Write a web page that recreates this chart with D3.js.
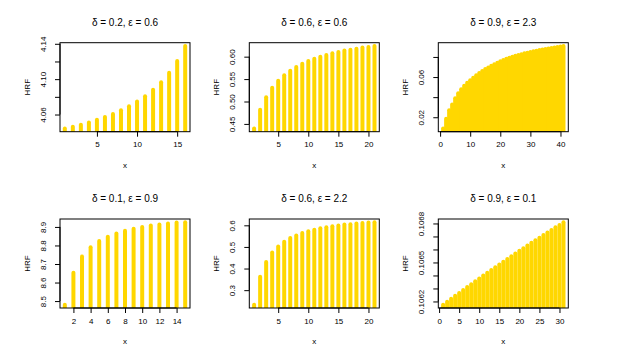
<!DOCTYPE html>
<html>
<head>
<meta charset="utf-8">
<script src="https://cdn.jsdelivr.net/npm/d3@7"></script>
<style>
  body { margin: 0; background: #fff; }
  text { font-family: "Liberation Sans", Arial, sans-serif; fill: #000; }
</style>
</head>
<body>
<svg width="624" height="355"></svg>
<script>
// Panel titles (row by row)
const titles = [
  'δ = 0.2, ε = 0.6', 'δ = 0.6, ε = 0.6', 'δ = 0.9, ε = 2.3',
  'δ = 0.1, ε = 0.9', 'δ = 0.6, ε = 2.2', 'δ = 0.9, ε = 0.1',
];

// HRF values, x = 1..n
const hrf1 = [4.0443, 4.0462, 4.0485, 4.0511, 4.0542, 4.0573, 4.0607, 4.0648,
  4.0693, 4.0747, 4.0807, 4.0880, 4.0966, 4.1073, 4.1205, 4.1375];
const hrf2 = [0.440, 0.4818, 0.5094, 0.5305, 0.5462, 0.5587, 0.5686, 0.5767,
  0.5843, 0.5901, 0.5955, 0.600, 0.6036, 0.6074, 0.6103, 0.6135, 0.6157,
  0.6179, 0.6202, 0.6215, 0.6238];
const hrf3 = [0.0089, 0.0186, 0.0269, 0.0326, 0.0389, 0.0439, 0.0479, 0.0514,
  0.0544, 0.0569, 0.0594, 0.0619, 0.0641, 0.0661, 0.0679, 0.0696, 0.0712,
  0.0727, 0.0742, 0.0756, 0.0769, 0.0781, 0.0792, 0.0802, 0.0811, 0.0820,
  0.0828, 0.0836, 0.0843, 0.0850, 0.0856, 0.0862, 0.0868, 0.0874, 0.0879,
  0.0884, 0.0889, 0.0894, 0.0899, 0.0904, 0.0909];
const hrf4 = [8.4804, 8.6526, 8.7398, 8.7910, 8.8237, 8.8471, 8.8651, 8.8798,
  8.8907, 8.9000, 8.9071, 8.9125, 8.9180, 8.9234, 8.9250];
const hrf5 = [0.2327, 0.3617, 0.4304, 0.4738, 0.5019, 0.5238, 0.5411, 0.5533,
  0.5645, 0.5720, 0.5799, 0.5860, 0.5907, 0.5953, 0.5986, 0.6033, 0.6047,
  0.6079, 0.6112, 0.6126, 0.6140];
const hrf6 = [0.106175, 0.106198, 0.106221, 0.106244, 0.106266, 0.106289,
  0.106311, 0.106333, 0.106355, 0.106377, 0.106399, 0.106421, 0.106442,
  0.106464, 0.106485, 0.106506, 0.106527, 0.106548, 0.106569, 0.106590,
  0.106610, 0.106631, 0.106651, 0.106671, 0.106691, 0.106711, 0.106731,
  0.106750, 0.106770, 0.106789, 0.106809];

// Axis ticks; labels that R dropped for overlap are left blank
const xTicks = [
  [5, 10, 15], [5, 10, 15, 20], [0, 10, 20, 30, 40],
  [2, 4, 6, 8, 10, 12, 14], [5, 10, 15, 20], [0, 5, 10, 15, 20, 25, 30],
];
const yTicks = [
  [4.06, 4.08, 4.10, 4.12, 4.14],
  [0.45, 0.50, 0.55, 0.60],
  [0.02, 0.04, 0.06, 0.08],
  [8.5, 8.6, 8.7, 8.8, 8.9],
  [0.3, 0.4, 0.5, 0.6],
  [0.1062, 0.1063, 0.1064, 0.1065, 0.1066, 0.1067, 0.1068],
];
const yLabels = [
  ['4.06', '', '4.10', '', '4.14'],
  ['0.45', '0.50', '0.55', '0.60'],
  ['0.02', '', '0.06', ''],
  ['8.5', '8.6', '8.7', '8.8', '8.9'],
  ['0.3', '0.4', '0.5', '0.6'],
  ['0.1062', '', '', '0.1065', '', '', '0.1068'],
];

const series = [hrf1, hrf2, hrf3, hrf4, hrf5, hrf6];

// Layout of the 2 x 3 grid (plot boxes)
const colX = [60, 249.3, 438.3];
const rowY = [42.7, 219];
const boxW = 130;
const boxH = 89;
const gold = '#FFD700';

const svg = d3.select('svg');

// R style range with 4% padding
const pad = (ext) => {
  const r = ext[1] - ext[0];
  return [ext[0] - 0.04 * r, ext[1] + 0.04 * r];
};

series.forEach((vals, i) => {
  const left = colX[i % 3];
  const top = rowY[Math.floor(i / 3)];
  const data = vals.map((v, k) => ({x: k + 1, y: v}));

  const x = d3.scaleLinear()
    .domain(pad([1, vals.length]))
    .range([0, boxW]);
  const y = d3.scaleLinear()
    .domain(pad(d3.extent(vals)))
    .range([boxH, 0]);

  const g = svg.append('g')
    .attr('transform', `translate(${left},${top})`);

  g.append('clipPath')
    .attr('id', `clip${i}`)
    .append('rect')
    .attr('width', boxW)
    .attr('height', boxH);

  // Vertical "h" lines
  g.append('g')
    .attr('clip-path', `url(#clip${i})`)
    .selectAll('line')
    .data(data)
    .join('line')
      .attr('x1', (d) => x(d.x))
      .attr('x2', (d) => x(d.x))
      .attr('y1', boxH + 10)
      .attr('y2', (d) => y(d.y))
      .attr('stroke', gold)
      .attr('stroke-width', 4)
      .attr('stroke-linecap', 'round');

  // Box
  g.append('rect')
    .attr('width', boxW)
    .attr('height', boxH)
    .attr('fill', 'none')
    .attr('stroke', '#000')
    .attr('stroke-width', 1);

  // Bottom axis
  const xAxis = d3.axisBottom(x)
    .tickValues(xTicks[i])
    .tickSize(5)
    .tickPadding(5)
    .tickFormat(d3.format('d'));
  const gx = g.append('g')
    .attr('transform', `translate(0,${boxH})`)
    .call(xAxis);
  gx.select('.domain')
    .attr('d', `M${x(xTicks[i][0])},0H${x(xTicks[i][xTicks[i].length - 1])}`);
  gx.selectAll('text')
    .attr('font-size', 8)
    .attr('font-family', null);

  // Left axis with rotated labels
  const yAxis = d3.axisLeft(y)
    .tickValues(yTicks[i])
    .tickSize(5)
    .tickFormat((d, k) => yLabels[i][k]);
  const gy = g.append('g').call(yAxis);
  gy.select('.domain')
    .attr('d', `M0,${y(yTicks[i][0])}V${y(yTicks[i][yTicks[i].length - 1])}`);
  gy.selectAll('text')
    .attr('font-size', 8)
    .attr('font-family', null)
    .attr('x', null)
    .attr('dy', null)
    .attr('text-anchor', 'middle')
    .attr('transform', 'translate(-14,0) rotate(-90)');

  // Title and axis titles
  g.append('text')
    .attr('x', boxW / 2)
    .attr('y', -17)
    .attr('text-anchor', 'middle')
    .attr('font-size', 10)
    .text(titles[i]);

  g.append('text')
    .attr('x', boxW / 2)
    .attr('y', boxH + 36)
    .attr('text-anchor', 'middle')
    .attr('font-size', 8)
    .text('x');

  g.append('text')
    .attr('transform', `translate(-30,${boxH / 2}) rotate(-90)`)
    .attr('text-anchor', 'middle')
    .attr('font-size', 8)
    .text('HRF');
});
</script>
</body>
</html>
